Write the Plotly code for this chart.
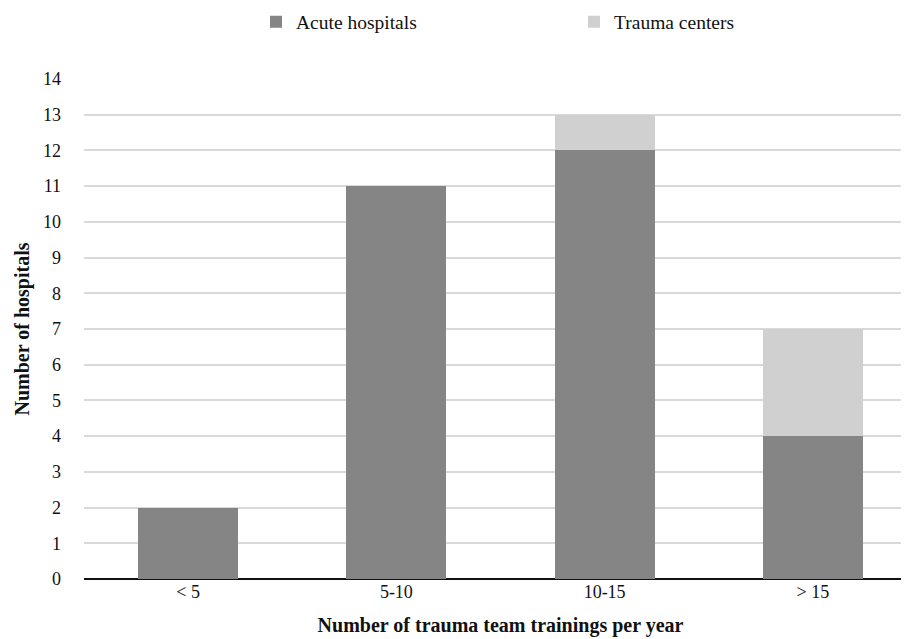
import plotly.graph_objects as go

categories = ["< 5", "5-10", "10-15", "> 15"]
acute = [2, 11, 12, 4]
trauma = [0, 0, 1, 3]
y_ticks = list(range(0, 15))

font_family = "Liberation Serif"

fig = go.Figure()
fig.add_trace(go.Bar(x=categories, y=acute, name="Acute hospitals",
                     marker=dict(color="#858585", line=dict(width=0))))
fig.add_trace(go.Bar(x=categories, y=trauma, name="Trauma centers",
                     marker=dict(color="#d0d0d0", line=dict(width=0))))

fig.update_layout(
    barmode="stack",
    bargap=0.52,
    width=909, height=639,
    margin=dict(l=76, r=0, t=71, b=68, autoexpand=False),
    paper_bgcolor="white", plot_bgcolor="white",
    font=dict(family=font_family, size=18, color="#111111"),
    legend=dict(orientation="h", x=0.2065, xanchor="left", y=1.114, yanchor="middle",
                traceorder="normal",
                entrywidth=273, entrywidthmode="pixels",
                font=dict(size=19.5, family=font_family), itemsizing="constant"),
    xaxis=dict(
        range=[-0.5, 3.5],
        showgrid=False, showline=False, ticks="", zeroline=False,
        tickfont=dict(size=18, family=font_family),
        title=dict(text="<b>Number of trauma team trainings per year</b>",
                   font=dict(size=20, family=font_family), standoff=16),
    ),
    yaxis=dict(
        range=[0, 14], tickvals=y_ticks, ticktext=[str(v) for v in y_ticks],
        showgrid=True, gridcolor="#d9d9d9", gridwidth=1.5,
        zeroline=True, zerolinecolor="#111111", zerolinewidth=2,
        showline=False, ticks="", ticklabelstandoff=22,
        tickfont=dict(size=18, family=font_family),
        title=dict(text="<b>Number of hospitals</b>", font=dict(size=20, family=font_family), standoff=8),
    ),
)

fig.write_html("out.html")
